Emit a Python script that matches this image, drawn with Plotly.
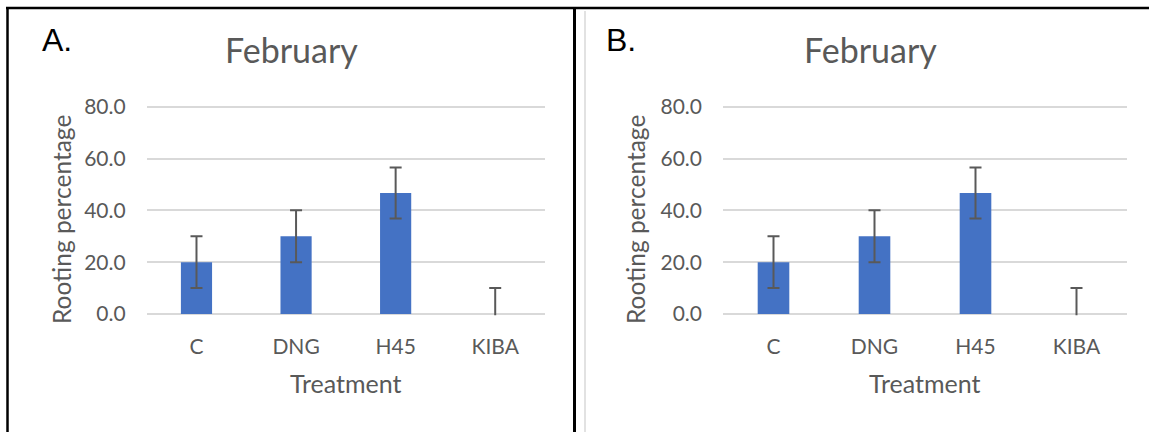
import plotly.graph_objects as go

# ---- data ----
treatments = ["C", "DNG", "H45", "KIBA"]
rooting_pct = [20.0, 30.0, 46.7, 0.0]
err_size = [10.0, 10.0, 9.8, 10.0]
y_ticks = [0, 20, 40, 60, 80]
y_tick_labels = ["0.0", "20.0", "40.0", "60.0", "80.0"]
panel_labels = ["A.", "B."]
chart_title = "February"
x_title = "Treatment"
y_title = "Rooting percentage"

W, H = 1149, 432


def px(x):
    return x / W


def py(y):
    return 1 - y / H


BAR = "#4472C4"
TXT = "#595959"
GRID = "#D9D9D9"
FONT = "Lato"

# pixel layout of the two panels
panels = [
    dict(x0=146.7, x1=545.0, ylab=61, title_x=291, xt_x=346, lab_x=57),
    dict(x0=723.0, x1=1127.0, ylab=635, title_x=870, xt_x=925, lab_x=621),
]
y0_px, y80_px = 314.0, 106.7
unit = (y0_px - y80_px) / 80.0
pad = 0.5
rng = [-pad, 80 + pad]
dom = [py(y0_px + pad * unit), py(y80_px - pad * unit)]

fig = go.Figure()
annotations = []
for i, p in enumerate(panels):
    sfx = "" if i == 0 else str(i + 1)
    fig.add_trace(go.Bar(
        x=treatments, y=rooting_pct,
        xaxis="x" + sfx, yaxis="y" + sfx,
        marker=dict(color=BAR, line=dict(width=0)),
        error_y=dict(type="data", array=err_size,
                     color=TXT, thickness=2, width=6),
        cliponaxis=True,
        showlegend=False,
    ))
    fig.update_layout(**{
        "xaxis" + sfx: dict(
            domain=[px(p["x0"]), px(p["x1"])], anchor="y" + sfx,
            showgrid=False, zeroline=False, showline=False,
            ticks="", ticklabelstandoff=17, automargin=False,
            tickfont=dict(family=FONT, size=21, color=TXT),
            fixedrange=True,
        ),
        "yaxis" + sfx: dict(
            domain=dom, anchor="x" + sfx, range=rng,
            tickvals=y_ticks, ticktext=y_tick_labels,
            showgrid=True, gridcolor=GRID, gridwidth=2,
            zeroline=False, showline=False, ticks="",
            ticklabelstandoff=20, automargin=False,
            tickfont=dict(family=FONT, size=21, color=TXT),
            fixedrange=True,
        ),
    })
    annotations += [
        dict(text=chart_title, x=px(p["title_x"]), y=py(50), xref="paper", yref="paper",
             showarrow=False, xanchor="center", yanchor="middle",
             font=dict(family=FONT, size=34, color=TXT)),
        dict(text=x_title, x=px(p["xt_x"]), y=py(383), xref="paper", yref="paper",
             showarrow=False, xanchor="center", yanchor="middle",
             font=dict(family=FONT, size=25, color=TXT)),
        dict(text=y_title, x=px(p["ylab"]), y=py(220), xref="paper", yref="paper",
             showarrow=False, xanchor="center", yanchor="middle", textangle=-90,
             font=dict(family=FONT, size=24.5, color=TXT)),
        dict(text=panel_labels[i], x=px(p["lab_x"]), y=py(40), xref="paper", yref="paper",
             showarrow=False, xanchor="center", yanchor="middle",
             font=dict(family="Liberation Sans", size=32, color="#000000")),
    ]

shapes = [
    dict(type="line", xref="paper", yref="paper", x0=px(6), x1=px(1149), y0=py(8), y1=py(8),
         line=dict(color="#000000", width=2.5)),
    dict(type="line", xref="paper", yref="paper", x0=px(7.5), x1=px(7.5), y0=py(8), y1=py(432),
         line=dict(color="#000000", width=2.5)),
    dict(type="line", xref="paper", yref="paper", x0=px(574.5), x1=px(574.5), y0=py(8), y1=py(432),
         line=dict(color="#000000", width=3)),
    dict(type="line", xref="paper", yref="paper", x0=px(585), x1=px(585), y0=py(11), y1=py(432),
         line=dict(color=GRID, width=1.5)),
]

fig.update_layout(
    width=W, height=H,
    margin=dict(l=0, r=0, t=0, b=0, pad=0, autoexpand=False),
    paper_bgcolor="white", plot_bgcolor="white",
    bargap=0.687,
    annotations=annotations, shapes=shapes,
    font=dict(family=FONT, color=TXT),
)

fig.write_html(
    "out.html",
    config={"displayModeBar": False},
    post_script="document.body.style.margin='0';document.body.style.overflow='hidden';",
)
